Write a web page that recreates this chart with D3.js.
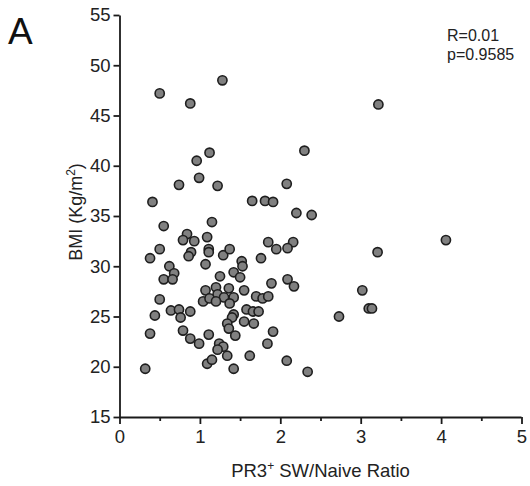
<!DOCTYPE html>
<html><head><meta charset="utf-8">
<script src="https://cdn.jsdelivr.net/npm/d3@7"></script>
<style>body{margin:0;background:#fff}svg{display:block}text{font-family:"Liberation Sans",Arial,sans-serif}</style>
</head><body><svg id="c" width="530" height="486"></svg>
<script>
const xVals = [0.50,0.88,1.28,3.22,1.12,0.96,2.30,0.99,0.74,1.22,2.08,0.41,1.65,1.81,1.91,2.20,2.39,0.55,1.15,
0.84,0.79,0.93,1.09,4.06,1.85,2.16,0.50,1.11,1.11,0.89,1.29,1.37,1.95,2.09,3.21,0.38,0.86,1.76,1.07,0.62,1.52,1.53,
0.68,0.55,0.66,1.25,1.42,1.50,1.89,2.09,2.17,1.07,1.20,1.36,1.22,1.30,1.42,1.04,1.12,1.20,1.37,1.55,1.70,1.78,1.85,
0.50,0.64,0.74,0.88,0.44,0.76,1.58,1.66,1.73,1.42,1.40,1.55,1.67,1.34,1.36,3.10,3.14,2.73,3.02,
0.79,0.38,1.11,1.44,0.88,1.91,0.99,1.24,1.29,1.22,1.84,1.34,1.62,2.08,1.09,1.15,1.42,0.32,2.34];
const yVals = [47.2,46.2,48.5,46.1,41.3,40.5,41.5,38.8,38.1,38.0,38.2,36.4,36.5,36.5,36.4,35.3,35.1,34.0,34.4,
33.2,32.6,32.5,32.9,32.6,32.4,32.4,31.7,31.7,31.4,31.4,31.1,31.7,31.7,31.8,31.4,30.8,31.0,30.8,30.2,30.0,30.5,30.0,
29.3,28.7,28.7,29.0,29.4,28.9,28.3,28.7,28.0,27.6,27.9,27.8,27.2,26.9,26.9,26.5,26.8,26.5,26.3,27.6,27.0,26.8,27.0,
26.7,25.6,25.7,25.5,25.1,24.9,25.7,25.5,25.5,25.2,24.9,24.5,24.3,24.3,23.8,25.8,25.8,25.0,27.6,
23.6,23.3,23.2,23.1,22.8,23.5,22.3,22.3,22.0,21.7,22.3,21.1,21.1,20.6,20.3,20.7,19.8,19.8,19.5];
const xTicks = [0,1,2,3,4,5];
const xMinorTicks = [0.5,1.5,2.5,3.5,4.5];
const yTicks = [15,20,25,30,35,40,45,50,55];
const statLines = ["R=0.01","p=0.9585"];

const svg = d3.select("#c");
const x = d3.scaleLinear().domain([0,5]).range([119.5,521.5]);
const y = d3.scaleLinear().domain([15,55]).range([417,15]);

const gx = svg.append("g").attr("transform","translate(0,417)")
  .call(d3.axisBottom(x).tickValues(xTicks).tickSize(7).tickPadding(6).tickFormat(d3.format("d")));
const gxm = svg.append("g").attr("transform","translate(0,417)")
  .call(d3.axisBottom(x).tickValues(xMinorTicks).tickSize(4).tickFormat(""));
gxm.select(".domain").remove();
const gy = svg.append("g").attr("transform","translate(119.5,0)")
  .call(d3.axisLeft(y).tickValues(yTicks).tickSize(6).tickPadding(3).tickSizeOuter(0));
gx.call(g=>g.select(".domain").attr("d","M119.5,0.5H521.5"));
[gx,gxm,gy].forEach(g=>{
  g.selectAll("path,line").attr("stroke","#1a1a1a").attr("stroke-width",1.8);
  g.selectAll("text").attr("font-size",18.5).attr("fill","#222").attr("font-family","Liberation Sans, Arial, sans-serif");
});

svg.append("g").selectAll("circle").data(xVals.map((v,i)=>[v,yVals[i]])).join("circle")
  .attr("cx",d=>x(d[0])).attr("cy",d=>y(d[1])).attr("r",4.6)
  .attr("fill","#808080").attr("stroke","#1e1e1e").attr("stroke-width",1.6);

svg.append("text").attr("x",8).attr("y",44).attr("font-size",37).attr("fill","#111").text("A");

const yl = svg.append("text").attr("transform","translate(82,212) rotate(-90)")
  .attr("text-anchor","middle").attr("font-size",18).attr("fill","#222");
yl.append("tspan").text("BMI (Kg/m");
yl.append("tspan").attr("font-size",12).attr("dy",-7).text("2");
yl.append("tspan").attr("dy",7).text(")");

const xl = svg.append("text").attr("x",320.5).attr("y",477).attr("text-anchor","middle").attr("font-size",18.5).attr("fill","#222");
xl.append("tspan").text("PR3");
xl.append("tspan").attr("font-size",12).attr("dy",-7).text("+");
xl.append("tspan").attr("dy",7).text(" SW/Naive Ratio");

svg.append("g").selectAll("text").data(statLines).join("text")
  .attr("x",447).attr("y",(d,i)=>41+i*19).attr("font-size",16).attr("fill","#222").text(d=>d);
</script></body></html>
